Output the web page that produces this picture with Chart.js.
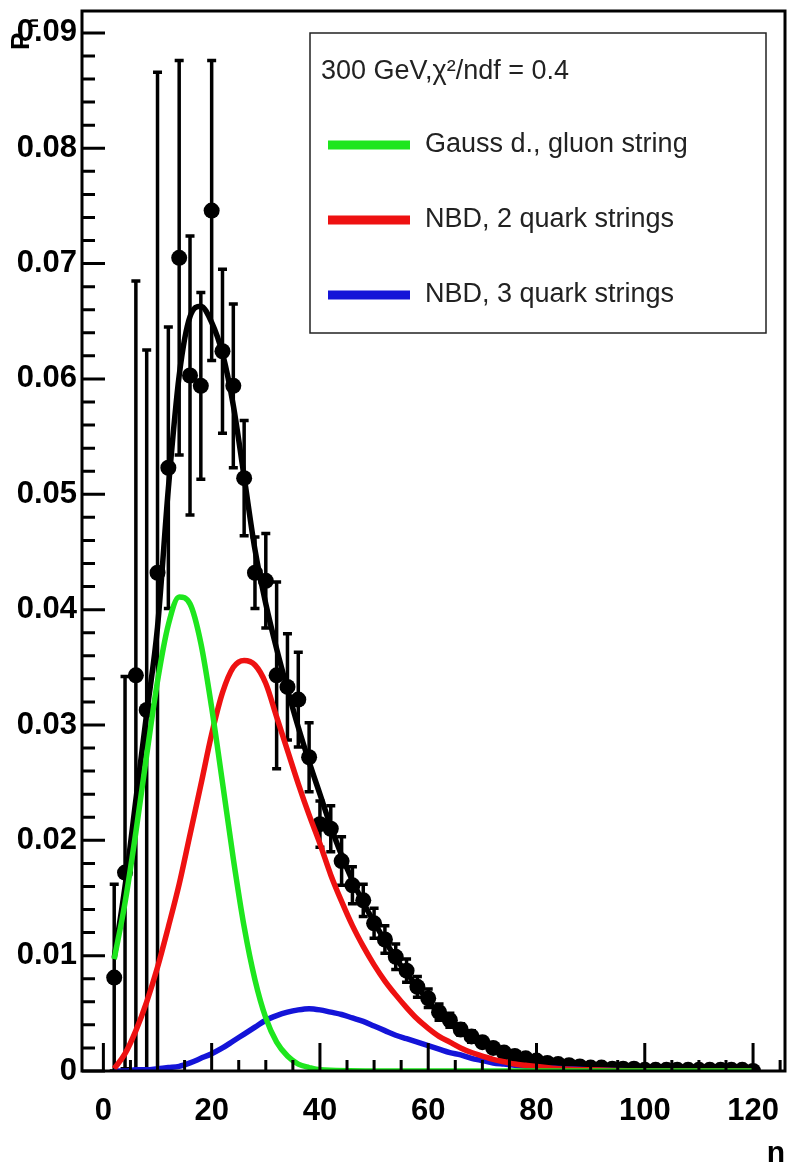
<!DOCTYPE html>
<html>
<head>
<meta charset="utf-8">
<script src="https://cdn.jsdelivr.net/npm/chart.js@4.4.1/dist/chart.umd.min.js"></script>
<style>
  html, body { margin: 0; padding: 0; background: #fff; }
  #wrap { width: 793px; height: 1172px; }
</style>
</head>
<body>
<div id="wrap"><canvas id="chart"></canvas></div>
<script>
// measured multiplicity distribution (points with errors)
const pointN = [2, 4, 6, 8, 10, 12, 14, 16, 18, 20, 22, 24, 26, 28, 30, 32, 34, 36, 38, 40,
  42, 44, 46, 48, 50, 52, 54, 56, 58, 60, 62, 64, 66, 68, 70, 72, 74, 76, 78, 80,
  82, 84, 86, 88, 90, 92, 94, 96, 98, 100, 102, 104, 106, 108, 110, 112, 114, 116, 118, 120];
const pointV = [0.0081, 0.0172, 0.0343, 0.0313, 0.0432, 0.0523, 0.0705, 0.0603, 0.0594, 0.0746,
  0.0624, 0.0594, 0.0514, 0.0432, 0.0425, 0.0343, 0.0333, 0.0322, 0.0272, 0.0214,
  0.0210, 0.0182, 0.0161, 0.0148, 0.0128, 0.0114, 0.0099, 0.0087, 0.0073, 0.0063,
  0.0051, 0.0044, 0.0036, 0.0030, 0.0025, 0.0020, 0.0016, 0.0013, 0.0011, 0.0009,
  0.0007, 0.0006, 0.0005, 0.0004, 0.0003, 0.0003, 0.0002, 0.0002, 0.0002, 0.0001,
  0.0001, 0.0001, 0.0001, 0.0001, 0.0001, 0.0001, 0.0001, 0.0001, 0.0001, 0.0];
const pointErr = [0.0081, 0.0170, 0.0342, 0.0312, 0.0434, 0.0122, 0.0171, 0.0121, 0.0081, 0.0130,
  0.0071, 0.0071, 0.0050, 0.0031, 0.0041, 0.0081, 0.0046, 0.0041, 0.0030, 0.0020,
  0.0020, 0.0021, 0.0016, 0.0014, 0.0013, 0.0012, 0.0011, 0.0010, 0.0009, 0.0008,
  0.0007, 0.0006, 0.0005, 0.0005, 0.0004, 0.0003, 0.0003, 0.0003, 0.0003, 0.0003,
  0.0002, 0.0002, 0.0002, 0.0002, 0.0002, 0.0001, 0.0001, 0.0001, 0.0001, 0.0001,
  0.0001, 0.0001, 0.0001, 0.0001, 0.0001, 0.0001, 0.0001, 0.0001, 0.0001, 0.0001];

// total fit
const fitN = [2, 4, 6, 8, 10, 12, 14, 16, 18, 20, 22, 24, 26, 28, 30, 32, 34, 36, 38, 40,
  42, 44, 46, 48, 50, 52, 54, 56, 58, 60, 62, 64, 66, 68, 70, 72, 74, 76, 78, 80,
  84, 88, 94, 100, 110, 120];
const fitV = [0.0098, 0.0160, 0.0235, 0.0310, 0.0385, 0.0505, 0.0603, 0.0654, 0.0663, 0.0649,
  0.0622, 0.0577, 0.0515, 0.0452, 0.0405, 0.0366, 0.0331, 0.0298, 0.0268, 0.0240,
  0.0212, 0.0187, 0.0165, 0.0146, 0.0129, 0.0113, 0.0098, 0.0085, 0.0073, 0.0061,
  0.0050, 0.0042, 0.0035, 0.0029, 0.0024, 0.0019, 0.0015, 0.0012, 0.0010, 0.0008,
  0.0005, 0.0003, 0.0002, 0.0001, 0.0001, 0.0];

// Gauss d., gluon string
const greenN = [2, 4, 6, 8, 10, 12, 14, 16, 18, 20, 22, 24, 26, 28, 30, 32, 34, 36, 38, 40,
  50, 60, 80, 100, 120];
const greenV = [0.0097, 0.0146, 0.0207, 0.0274, 0.0338, 0.0387, 0.0411, 0.0405, 0.0371, 0.0315,
  0.0250, 0.0184, 0.0125, 0.0079, 0.0046, 0.0025, 0.0013, 0.0006, 0.0003, 0.0001,
  0.0, 0.0, 0.0, 0.0, 0.0];

// NBD, 2 quark strings
const redN = [2, 4, 6, 8, 10, 12, 14, 16, 18, 20, 22, 24, 26, 28, 30, 32, 34, 36, 38, 40,
  42, 44, 46, 48, 50, 52, 54, 56, 58, 60, 62, 64, 66, 68, 70, 72, 74, 76, 78, 80,
  84, 90, 100, 120];
const redV = [0.0002, 0.0015, 0.0035, 0.0060, 0.0090, 0.0125, 0.0162, 0.0205, 0.0248, 0.0292,
  0.0328, 0.0350, 0.0356, 0.0352, 0.0336, 0.0307, 0.0278, 0.0249, 0.0222, 0.0197,
  0.0170, 0.0147, 0.0126, 0.0108, 0.0092, 0.0078, 0.0066, 0.0055, 0.0045, 0.0037,
  0.0030, 0.0025, 0.0020, 0.0016, 0.0013, 0.0010, 0.0008, 0.0006, 0.0005, 0.0004,
  0.0002, 0.0001, 0.0, 0.0];

// NBD, 3 quark strings
const blueN = [2, 4, 6, 8, 10, 12, 14, 16, 18, 20, 22, 24, 26, 28, 30, 32, 34, 36, 38, 40,
  42, 44, 46, 48, 50, 52, 54, 56, 58, 60, 62, 64, 66, 68, 70, 72, 74, 76, 78, 80,
  85, 90, 100, 120];
const blueV = [0.0, 0.0, 0.0001, 0.0001, 0.0002, 0.0003, 0.0004, 0.0007, 0.0011, 0.0015,
  0.0020, 0.0026, 0.0032, 0.0038, 0.0044, 0.0048, 0.0051, 0.0053, 0.0054, 0.0053,
  0.0051, 0.0049, 0.0046, 0.0043, 0.0039, 0.0035, 0.0031, 0.0028, 0.0025, 0.0022,
  0.0019, 0.0016, 0.0014, 0.0011, 0.0009, 0.0007, 0.0006, 0.0005, 0.0004, 0.0003,
  0.0002, 0.0001, 0.0, 0.0];

const xMajor = [0, 20, 40, 60, 80, 100, 120];
const yMajor = [0, 0.01, 0.02, 0.03, 0.04, 0.05, 0.06, 0.07, 0.08, 0.09];

const legendTitle = "300 GeV,\u03C7\u00B2/ndf = 0.4";
const legendLabels = ["Gauss d., gluon string", "NBD, 2 quark strings", "NBD, 3 quark strings"];
const GREEN = '#1ee61e', RED = '#ee1111', BLUE = '#1414d8';
const legendColors = [GREEN, RED, BLUE];

const toXY = (xs, ys) => xs.map((v, i) => ({ x: v, y: ys[i] }));
const FONT = "'Liberation Sans', Arial, sans-serif";

const rootStyle = {
    id: "rootStyle",
    beforeDatasetsDraw(chart) {
        const { ctx, chartArea: ca, scales: { x, y } } = chart;
        ctx.save();
        ctx.beginPath();
        ctx.rect(ca.left, ca.top, ca.right - ca.left, ca.bottom - ca.top);
        ctx.clip();
        ctx.strokeStyle = '#000';
        ctx.lineWidth = 3.5;
        pointN.forEach((n, i) => {
            const px = x.getPixelForValue(n);
            const yt = y.getPixelForValue(pointV[i] + pointErr[i]);
            const yb = y.getPixelForValue(pointV[i] - pointErr[i]);
            ctx.beginPath();
            ctx.moveTo(px, yt);
            ctx.lineTo(px, yb);
            ctx.moveTo(px - 4.5, yt);
            ctx.lineTo(px + 4.5, yt);
            ctx.moveTo(px - 4.5, yb);
            ctx.lineTo(px + 4.5, yb);
            ctx.stroke();
        });
        ctx.restore();
    },
    afterDatasetsDraw(chart) {
        const { ctx, chartArea: ca, scales: { x, y } } = chart;
        ctx.save();
        ctx.strokeStyle = '#000';
        ctx.lineWidth = 3;
        ctx.strokeRect(ca.left, ca.top, ca.right - ca.left, ca.bottom - ca.top);

        // inward ticks, ROOT style
        ctx.beginPath();
        for (let v = 0; v <= 125; v += 5) {
            const px = x.getPixelForValue(v);
            const len = v % 20 === 0 ? 28 : 11;
            ctx.moveTo(px, ca.bottom);
            ctx.lineTo(px, ca.bottom - len);
        }
        for (let k = 0; k <= 45; k++) {
            const py = y.getPixelForValue(k * 0.002);
            const len = k % 5 === 0 ? 23 : 13;
            ctx.moveTo(ca.left, py);
            ctx.lineTo(ca.left + len, py);
        }
        ctx.stroke();

        // legend box
        const lx = ca.left + 228, ly = ca.top + 22, lw = 456, lh = 300;
        ctx.fillStyle = '#fff';
        ctx.fillRect(lx, ly, lw, lh);
        ctx.lineWidth = 1.5;
        ctx.strokeStyle = '#222';
        ctx.strokeRect(lx, ly, lw, lh);
        ctx.fillStyle = '#222';
        ctx.textBaseline = 'middle';
        ctx.textAlign = 'left';
        ctx.font = "27px " + FONT;
        ctx.fillText(legendTitle, lx + 11, ly + 39);
        legendLabels.forEach((lab, i) => {
            const cy = ly + 112 + i * 75;
            ctx.strokeStyle = legendColors[i];
            ctx.lineWidth = 9;
            ctx.beginPath();
            ctx.moveTo(lx + 18, cy);
            ctx.lineTo(lx + 100, cy);
            ctx.stroke();
            ctx.fillText(lab, lx + 115, cy);
        });

        // axis titles
        ctx.fillStyle = '#000';
        ctx.font = "bold 30px " + FONT;
        ctx.textAlign = 'center';
        ctx.textBaseline = 'alphabetic';
        ctx.fillText('n', 776, 1162);
        ctx.save();
        ctx.translate(29, 50);
        ctx.rotate(-Math.PI / 2);
        ctx.textAlign = 'left';
        ctx.font = "bold 26px " + FONT;
        ctx.fillText('P', 0, 0);
        ctx.font = "bold 16px " + FONT;
        ctx.fillText('n', 22, 9);
        ctx.restore();
        ctx.restore();
    }
};

const tickFont = { family: FONT, size: 31, weight: 'bold' };

new Chart(document.getElementById('chart'), {
    type: 'scatter',
    data: {
        datasets: [
            { label: legendLabels[0], data: toXY(greenN, greenV), showLine: true, borderColor: GREEN,
              borderWidth: 5.5, pointRadius: 0, cubicInterpolationMode: 'monotone', order: 0 },
            { label: legendLabels[1], data: toXY(redN, redV), showLine: true, borderColor: RED,
              borderWidth: 5.5, pointRadius: 0, cubicInterpolationMode: 'monotone', order: 1 },
            { label: legendLabels[2], data: toXY(blueN, blueV), showLine: true, borderColor: BLUE,
              borderWidth: 5.5, pointRadius: 0, cubicInterpolationMode: 'monotone', order: 2 },
            { label: 'fit', data: toXY(fitN, fitV), showLine: true, borderColor: '#000',
              borderWidth: 5.5, pointRadius: 0, cubicInterpolationMode: 'monotone', order: 3 },
            { label: 'data', data: toXY(pointN, pointV), showLine: false, pointRadius: 8,
              pointBackgroundColor: '#000', pointBorderWidth: 0, order: 4 }
        ]
    },
    options: {
        responsive: true,
        maintainAspectRatio: false,
        animation: false,
        layout: { padding: { top: 11, right: 5, left: 0, bottom: 0 } },
        plugins: {
            legend: { display: false },
            tooltip: { enabled: false }
        },
        scales: {
            x: {
                type: 'linear',
                min: -3.95,
                max: 125.9,
                grid: { display: false, drawTicks: false },
                border: { display: false },
                afterBuildTicks: s => { s.ticks = xMajor.map(v => ({ value: v })); },
                afterFit: s => { s.height = 101; s.paddingLeft = 0; s.paddingRight = 0; },
                ticks: { font: tickFont, color: '#000', padding: 22, autoSkip: false, maxRotation: 0,
                         callback: v => String(v) }
            },
            y: {
                type: 'linear',
                min: 0,
                max: 0.0919,
                grid: { display: false, drawTicks: false },
                border: { display: false },
                afterBuildTicks: s => { s.ticks = yMajor.map(v => ({ value: v })); },
                afterFit: s => { s.width = 82; s.paddingTop = 0; s.paddingBottom = 0; },
                ticks: { font: tickFont, color: '#000', padding: 5, autoSkip: false,
                         callback: v => v === 0 ? '0' : v.toFixed(2) }
            }
        }
    },
    plugins: [ rootStyle ]
});
</script>
</body>
</html>
